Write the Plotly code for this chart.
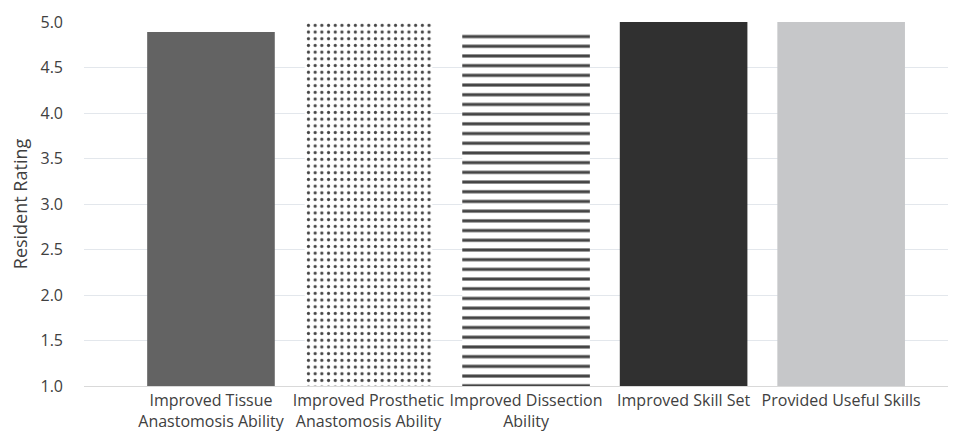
import plotly.graph_objects as go

categories = [
    "Improved Tissue<br>Anastomosis Ability",
    "Improved Prosthetic<br>Anastomosis Ability",
    "Improved Dissection<br>Ability",
    "Improved Skill Set",
    "Provided Useful Skills",
]
ratings = [4.89, 5.0, 4.9, 5.0, 5.0]
axis_base = 1.0
y_ticks = [1.0, 1.5, 2.0, 2.5, 3.0, 3.5, 4.0, 4.5, 5.0]

bar_colors = ["#636363", "#ffffff", "#ffffff", "#303030", "#c6c7c9"]
pattern_shapes = ["", ".", "-", "", ""]
pattern_fg = ["#636363", "#262626", "#111111", "#303030", "#c6c7c9"]
pattern_size = [8, 6.7, 9.7, 8, 8]
pattern_solidity = [0.3, 0.17, 0.32, 0.3, 0.3]

fig = go.Figure()
fig.add_trace(go.Bar(
    x=list(range(len(categories))),
    y=[v - axis_base for v in ratings],
    base=axis_base,
    width=0.81,
    marker=dict(
        color=bar_colors,
        line=dict(width=0),
        pattern=dict(
            shape=pattern_shapes,
            fgcolor=pattern_fg,
            fgopacity=1,
            size=pattern_size,
            solidity=pattern_solidity,
            fillmode="overlay",
        ),
    ),
    showlegend=False,
))

fig.update_layout(
    width=948, height=427,
    margin=dict(l=76, r=3, t=12, b=49),
    paper_bgcolor="white", plot_bgcolor="white",
    font=dict(family="Open Sans", size=16, color="#404040"),
)
fig.update_xaxes(
    range=[-0.806, 4.71],
    tickmode="array",
    tickvals=list(range(len(categories))),
    ticktext=categories,
    showgrid=False,
    showline=True, linecolor="#d9d9d9", linewidth=1,
    ticks="", tickfont=dict(size=16, color="#404040"),
    zeroline=False,
)
fig.update_yaxes(
    range=[1.0, 5.0],
    tickmode="array",
    tickvals=y_ticks,
    ticktext=[f"{t:.1f}" for t in y_ticks],
    showgrid=True, gridcolor="#e3e7ec", gridwidth=1,
    zeroline=False, showline=False,
    ticks="", ticklabelstandoff=20,
    tickfont=dict(size=16, color="#404040"),
    title=dict(text="Resident Rating", font=dict(size=18, color="#404040"), standoff=10),
)

fig.write_html("out.html")
